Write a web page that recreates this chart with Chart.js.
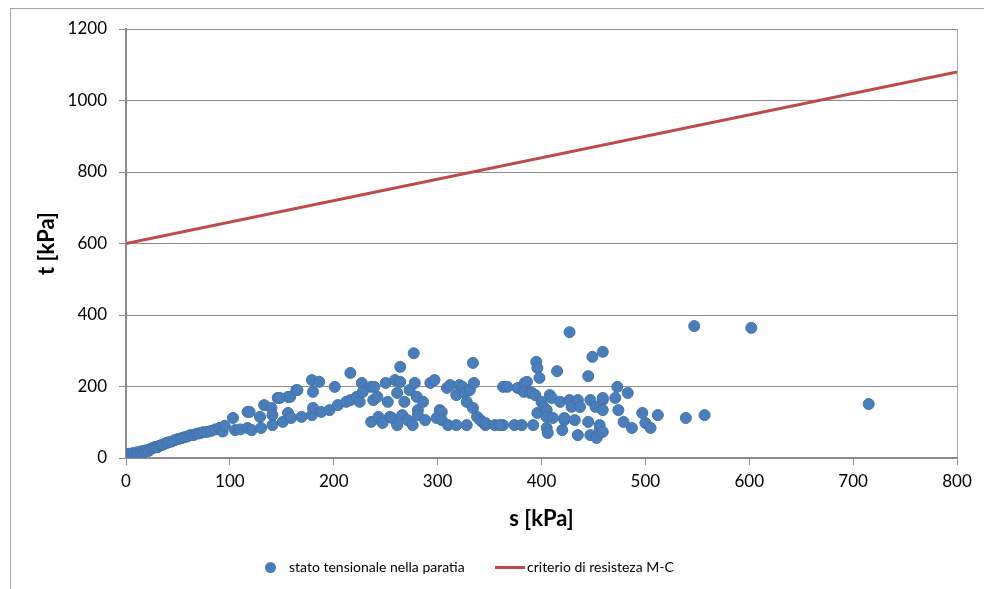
<!DOCTYPE html>
<html>
<head>
<meta charset="utf-8">
<script src="https://cdn.jsdelivr.net/npm/chart.js@4"></script>
<style>
  html, body { margin: 0; padding: 0; background: #fff; }
  #wrap { position: relative; width: 984px; height: 589px; overflow: hidden; }
  #frame { position: absolute; left: 10px; top: 8px; width: 1000px; height: 620px; border: 1px solid #a6a6a6; }
  #benchmarkChart { position: absolute; left: 0; top: 0; }
  .legend { position: absolute; top: 557px; height: 20px; font-family: Lato, sans-serif; font-size: 14px; color: #000; line-height: 20px; white-space: nowrap; }
  .dot { display: inline-block; width: 11px; height: 11px; border-radius: 50%; background: rgb(74,126,187); vertical-align: middle; margin-right: 13px; position: relative; top: -1px; }
  .dash { display: inline-block; width: 30px; height: 3px; background: rgb(190,75,72); vertical-align: middle; margin-right: 2px; position: relative; top: -1px; }
</style>
</head>
<body>
<div id="wrap">
  <div id="frame"></div>
  <canvas id="benchmarkChart" width="984" height="589"></canvas>
  <div class="legend" style="left:265px"><span class="dot"></span>stato tensionale nella paratia</div>
  <div class="legend" style="left:495px"><span class="dash"></span>criterio di resisteza M-C</div>
</div>
<script>
// stato tensionale nella paratia: s [kPa] and t [kPa]
const statoS = [
  0, 1, 2, 3, 4, 5, 6, 7, 8, 10, 11, 12, 14, 15, 17, 18, 20, 22, 24, 26, 28, 30,
  32, 34, 36, 39, 41, 44, 47, 50, 53, 56, 59, 62, 65, 68, 71, 74, 78, 82, 86, 90, 93, 95,
  103, 105, 110, 117, 117, 119, 121, 129, 130, 133, 140, 141, 141, 146, 148, 151, 156, 156,
  158, 159, 164, 165, 169, 179, 179, 180, 180, 186, 188, 196, 201, 204, 212, 216, 216, 222,
  225, 227, 228, 236, 236, 238,
  239, 242, 243, 247, 250, 252, 254, 256, 259, 261, 261, 264, 264, 266, 268, 271, 273, 276,
  277, 278, 280, 281, 281, 286, 288, 293, 297, 299, 302, 304, 304, 309, 310, 312, 318, 318,
  321, 324, 326, 328, 328, 331, 334, 335, 334, 338, 341, 343, 346, 346, 355, 363, 363,
  360, 367, 374, 377, 381, 384, 383, 386, 389, 391, 392, 394, 395, 396, 398, 396, 400, 402,
  405, 405, 405, 406, 408, 410, 411, 415, 418, 420, 422, 422, 427, 427, 429, 432, 435, 435,
  437, 445, 445, 447, 447, 449, 452, 453, 453, 456, 456, 459, 459, 459, 459, 459, 471, 473,
  474, 479, 483,
  487, 497, 500, 505, 512, 539, 547, 557, 602, 715
];
const statoT = [
  3, 8, 5, 12, 6, 10, 8, 14, 10, 12, 16, 13, 18, 15, 20, 17, 22, 20, 26, 28, 31, 30,
  34, 36, 38, 42, 44, 46, 50, 53, 55, 58, 60, 64, 64, 68, 69, 72, 73, 76, 80, 84, 74, 90,
  112, 78, 80, 129, 84, 129, 78, 115, 84, 148, 140, 120, 92, 168, 168, 101, 126, 171,
  171, 112, 190, 190, 115, 218, 120, 185, 140, 213, 129, 134, 199, 148, 157, 238, 162, 171,
  157, 210, 185, 199, 101, 162,
  199, 171, 115, 98, 210, 157, 115, 112, 218, 182, 92, 255, 213, 120, 157, 106, 190, 92,
  293, 210, 171, 134, 120, 157, 106, 210, 218, 112, 134, 129, 106, 196, 92, 204, 176, 92,
  204, 199, 182, 157, 92, 190, 266, 210, 140, 115, 106, 101, 92, 98, 92, 92, 199,
  92, 199, 92, 196, 92, 210, 185, 213, 182, 182, 92, 176, 269, 252, 224, 126, 157, 143,
  134, 115, 84, 70, 176, 168, 112, 243, 157, 78, 106, 112, 352, 162, 143, 106, 162, 64,
  143, 229, 101, 162, 64, 283, 143, 59, 56, 78, 92, 297, 162, 134, 168, 73, 168, 199,
  134, 101, 182,
  84, 126, 98, 84, 120, 112, 369, 120, 364, 151
];

// criterio di resisteza M-C
const criterioS = [0, 800];
const criterioT = [600, 1080];

// axes
const sMax = 800, sStep = 100;
const tMax = 1200, tStep = 200;

const axisGray = '#8c8c8c';
Chart.defaults.font.family = 'Lato, sans-serif';
Chart.defaults.color = '#000';

const ctx = document.getElementById('benchmarkChart').getContext('2d');
const benchmarkChart = new Chart(ctx, {
  type: 'scatter',
  data: {
    datasets: [
      {
        label: 'stato tensionale nella paratia',
        data: statoS.map((s, i) => ({ x: s, y: statoT[i] })),
        backgroundColor: 'rgb(74, 126, 187)',
        borderColor: 'rgb(66, 113, 170)',
        borderWidth: 1,
        pointRadius: 5.5,
        pointHoverRadius: 5.5
      },
      {
        label: 'criterio di resisteza M-C',
        data: criterioS.map((s, i) => ({ x: s, y: criterioT[i] })),
        showLine: true,
        borderColor: 'rgb(190, 75, 72)',
        backgroundColor: 'rgb(190, 75, 72)',
        borderWidth: 3,
        pointRadius: 0
      }
    ]
  },
  options: {
    responsive: false,
    animation: false,
    devicePixelRatio: 1,
    layout: { padding: { left: 0, top: 29, right: 27, bottom: 57 } },
    plugins: {
      legend: { display: false },
      tooltip: { enabled: false }
    },
    scales: {
      x: {
        type: 'linear',
        min: 0,
        max: sMax,
        ticks: { stepSize: sStep, font: { size: 17 }, padding: 6, callback: v => String(v) },
        grid: {
          color: c => (c.tick && c.tick.value === sMax ? '#a6a6a6' : 'transparent'),
          tickColor: axisGray,
          tickLength: 7
        },
        border: { color: axisGray, width: 2 },
        title: { display: true, text: 's [kPa]', font: { size: 22, weight: 'bold' }, padding: 0 },
        afterFit: scale => { scale.height = 74; }
      },
      y: {
        min: 0,
        max: tMax,
        ticks: { stepSize: tStep, font: { size: 17 }, padding: 12, callback: v => String(v) },
        grid: { color: axisGray, tickColor: axisGray, tickLength: 7 },
        border: { color: axisGray, width: 2 },
        title: { display: true, text: 't [kPa]', font: { size: 22, weight: 'bold' }, padding: { top: 34, bottom: 0 } },
        afterFit: scale => { scale.width = 126; }
      }
    }
  }
});
</script>
</body>
</html>
